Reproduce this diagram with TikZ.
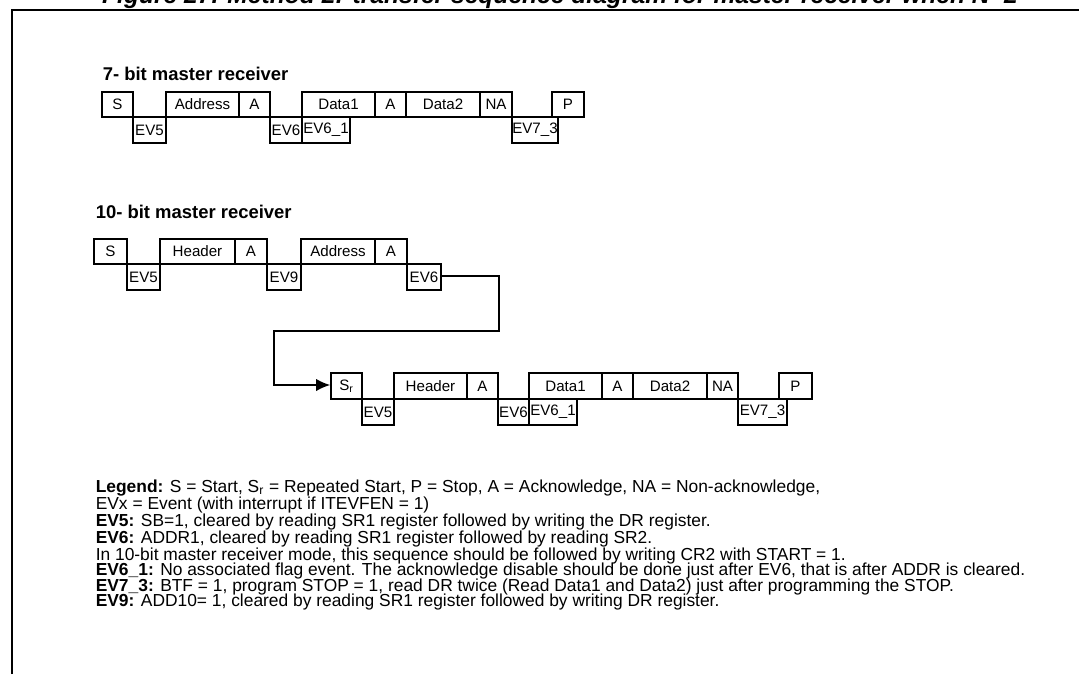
\documentclass[tikz,border=0pt]{standalone}
\usepackage{fontspec}
\setmainfont{Liberation Sans}
\usetikzlibrary{fit,arrows.meta}
\tikzset{
  seq/.style={draw, inner sep=0pt},
  head/.style={anchor=base west, inner sep=0pt, font=\fontsize{10.5}{12}\selectfont\bfseries},
  legend/.style={anchor=base west, inner sep=0pt, font=\fontsize{9.9}{11}\selectfont},
}
% one box of a sequence: name, x1, y1, x2, y2, text
\newcommand{\seqbox}[6]{%
  \coordinate (#1-a) at (#2,#3);
  \coordinate (#1-b) at (#4,#5);
  \node[seq, fit=(#1-a)(#1-b)] (#1) {};
  \node[inner sep=0pt, font=\fontsize{8.6}{10}\selectfont] at (#1) {#6};
}
\begin{document}
\begin{tikzpicture}[x=0.02cm, y=-0.02cm, line width=0.9pt]
  \useasboundingbox (0,0) rectangle (1079,674);
  \node[anchor=base, inner sep=0pt, font=\fontsize{14}{16}\selectfont\bfseries\itshape] (title) at (560,3)
    {Figure 27. Method 2: transfer sequence diagram for master receiver when N=2};
  \draw (12,674) -- (12,10) -- (1079,10);

  % 7-bit master receiver
  \node[head] (h7) at (102,80) {7- bit master receiver};
  \seqbox{s}{102}{92}{133}{117}{S}
  \seqbox{ev5}{133}{117}{166}{143}{EV5}
  \seqbox{addr}{166}{92}{239}{117}{Address}
  \seqbox{ack}{239}{92}{270}{117}{A}
  \seqbox{ev6}{270}{117}{302}{143}{EV6}
  \seqbox{dat1}{302}{92}{375}{117}{Data1}
  \seqbox{ev61}{302}{117}{350}{143}{EV6\_1}
  \seqbox{acka}{375}{92}{406}{117}{A}
  \seqbox{dat2}{406}{92}{480}{117}{Data2}
  \seqbox{nack}{480}{92}{512}{117}{NA}
  \seqbox{ev73}{512}{117}{558}{143}{EV7\_3}
  \seqbox{stop}{552}{92}{584}{117}{P}

  % 10-bit master receiver
  \node[head] (h10) at (95,218) {10- bit master receiver};
  \seqbox{ts}{94}{239}{127}{264}{S}
  \seqbox{tev5}{127}{264}{160}{290}{EV5}
  \seqbox{thdr}{160}{239}{235}{264}{Header}
  \seqbox{tack}{235}{239}{267}{264}{A}
  \seqbox{tev9}{267}{264}{301}{290}{EV9}
  \seqbox{taddr}{301}{239}{375}{264}{Address}
  \seqbox{tacka}{375}{239}{407}{264}{A}
  \seqbox{tev6}{407}{264}{441}{290}{EV6}

  \seqbox{rs}{331}{373}{362}{399}{S\textsubscript{r}}
  \seqbox{rev5}{362}{399}{394}{425}{EV5}
  \seqbox{rhdr}{394}{373}{467}{399}{Header}
  \seqbox{rack}{467}{373}{498}{399}{A}
  \seqbox{rev6}{498}{399}{529}{425}{EV6}
  \seqbox{rdat1}{529}{373}{602}{399}{Data1}
  \seqbox{rev61}{529}{399}{577}{425}{EV6\_1}
  \seqbox{racka}{602}{373}{633}{399}{A}
  \seqbox{rdat2}{633}{373}{707}{399}{Data2}
  \seqbox{rnack}{707}{373}{738}{399}{NA}
  \seqbox{rev73}{738}{399}{787}{425}{EV7\_3}
  \seqbox{rstop}{779}{373}{812}{399}{P}

  \draw[-{Latex[length=8pt,width=7pt]}] (tev6.east |- 0,276) -- (499,276) -- (499,331) -- (274,331)
    -- (274,385) -- (rs.west |- 0,385);

  % legend
  \node[legend] (l1) at (95,492) {\textbf{Legend:} S = Start, S\textsubscript{r} = Repeated Start, P = Stop, A = Acknowledge, NA = Non-acknowledge,};
  \node[legend] (l2) at (95,509) {EVx = Event (with interrupt if ITEVFEN = 1)};
  \node[legend] (l3) at (95,526) {\textbf{EV5:} SB=1, cleared by reading SR1 register followed by writing the DR register.};
  \node[legend] (l4) at (95,543) {\textbf{EV6:} ADDR1, cleared by reading SR1 register followed by reading SR2.};
  \node[legend] (l5) at (95,560) {In 10-bit master receiver mode, this sequence should be followed by writing CR2 with START = 1.};
  \node[legend] (l6) at (95,575) {\textbf{EV6\_1:} No associated flag event. The acknowledge disable should be done just after EV6, that is after ADDR is cleared.};
  \node[legend] (l7) at (95,591) {\textbf{EV7\_3:} BTF = 1, program STOP = 1, read DR twice (Read Data1 and Data2) just after programming the STOP.};
  \node[legend] (l8) at (95,606) {\textbf{EV9:} ADD10= 1, cleared by reading SR1 register followed by writing DR register.};
\end{tikzpicture}
\end{document}
